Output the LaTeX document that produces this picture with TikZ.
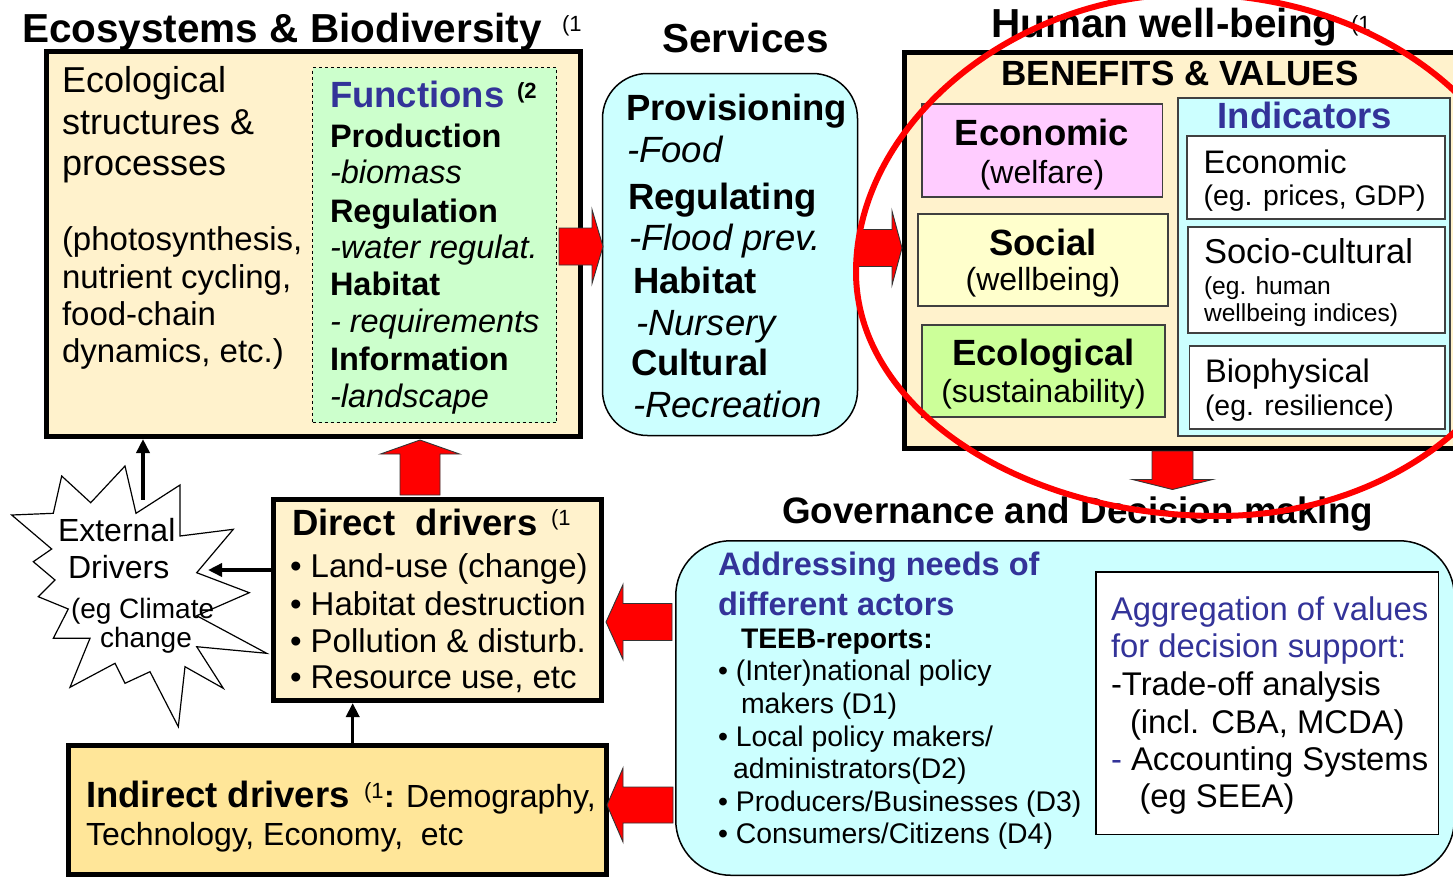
\documentclass[tikz,border=0pt]{standalone}
\usepackage{fontspec}
\setmainfont{Liberation Sans}
\usetikzlibrary{calc,arrows.meta}
\definecolor{cream}{HTML}{FFF2CC}
\definecolor{indyellow}{HTML}{FFE699}
\definecolor{fgreen}{HTML}{CCFFCC}
\definecolor{cyanbox}{HTML}{CCFFFF}
\definecolor{pinkbox}{HTML}{FFCCFF}
\definecolor{socbox}{HTML}{FFFFCC}
\definecolor{ecolbox}{HTML}{CCFF99}
\definecolor{dblue}{HTML}{333399}
\newcommand{\fsz}[1]{\fontsize{#1}{#1}\selectfont}
\tikzset{
  pics/blockarrow/.style args={#1/#2/#3/#4}{code={
    \filldraw[fill=red,draw=black!80,line width=0.9pt]
      (0,-#3) -- (#1-#2,-#3) -- (#1-#2,-#4) -- (#1,0) -- (#1-#2,#4) -- (#1-#2,#3) -- (0,#3) -- cycle;
  }}
}
\begin{document}
\begin{tikzpicture}[x=1pt,y=-1pt,
  txt/.style={anchor=base west,inner sep=0pt,outer sep=0pt},
  ctxt/.style={anchor=base,inner sep=0pt,outer sep=0pt},
  thickbox/.style={draw=black,line width=5pt,inner sep=0pt},
  thinbox/.style={draw=black!75,line width=1.8pt,inner sep=0pt},
  thinarr/.style={line width=3.5pt,-{Triangle[length=14pt,width=13pt]}},
]
\useasboundingbox (0,0) rectangle (1453,879);
\fill[white] (0,0) rectangle (1453,879);

% ---------- boxes ----------
\node[thickbox,fill=cream,minimum width=534pt,minimum height=385pt] (ecobox) at (313.5,244) {};
\node[draw=black,dashed,line width=1.2pt,fill=fgreen,inner sep=0pt,minimum width=244pt,minimum height=355pt] (fnbox) at (434.5,245) {};
\node[draw=black,line width=1.5pt,fill=cyanbox,rounded corners=45pt,inner sep=0pt,minimum width=255pt,minimum height=362pt] (servbox) at (730,254.5) {};
\node[thickbox,fill=cream,minimum width=563pt,minimum height=396pt] (hwbbox) at (1186,250.5) {};
\node[thinbox,fill=pinkbox,minimum width=240.5pt,minimum height=93pt] (econbox) at (1042.25,150.5) {};
\node[thinbox,fill=socbox,minimum width=250pt,minimum height=92pt] (socbox) at (1043,260) {};
\node[thinbox,fill=ecolbox,minimum width=243pt,minimum height=92pt] (ecolbox) at (1043.5,371) {};
\node[thinbox,fill=cyanbox,minimum width=272pt,minimum height=338pt] (indbox) at (1314,267) {};
\node[thinbox,fill=white,minimum width=258pt,minimum height=83pt] (wbox1) at (1316,177.5) {};
\node[thinbox,fill=white,minimum width=257pt,minimum height=106pt] (wbox2) at (1316.5,280) {};
\node[thinbox,fill=white,minimum width=255.5pt,minimum height=83pt] (wbox3) at (1317.25,387.5) {};
\node[draw=black,line width=1.5pt,fill=cyanbox,rounded corners=55pt,inner sep=0pt,minimum width=778.5pt,minimum height=334.5pt] (govbox) at (1065,708) {};
\node[draw=black,line width=1.5pt,fill=white,inner sep=0pt,minimum width=342.5pt,minimum height=262.5pt] (aggbox) at (1267,703) {};
\node[thickbox,fill=cream,minimum width=327.6pt,minimum height=201pt] (directbox) at (437.3,600) {};
\node[thickbox,fill=indyellow,minimum width=538.4pt,minimum height=129pt] (indirectbox) at (337.3,810) {};

% ---------- external drivers star ----------
\filldraw[fill=white,draw=black,line width=1.2pt]
 (11.7,515) -- (53.3,513.3) -- (61.7,476) -- (90.7,502.7) -- (125,466) -- (136,513.3)
 -- (180,485) -- (180,536) -- (233.3,529.3) -- (196.7,572.7) -- (249.3,592.7)
 -- (196.7,615.7) -- (266.7,653.3) -- (196.7,646.7) -- (223.3,688.3) -- (185,666.7)
 -- (178.3,726.7) -- (150,671.7) -- (125,683.3) -- (115,663.3) -- (70,687.3)
 -- (90,638.3) -- (53.3,638.3) -- (68.3,609) -- (38.3,596.7) -- (55,580)
 -- (33.3,561.7) -- (51.7,549) -- cycle;

% ---------- block arrows ----------
\pic at (559,246.5) {blockarrow=44/11/18.5/37};
\pic at (858,248) {blockarrow=44/10/18.5/37};
\pic[rotate=-90] at (1172.5,451) {blockarrow=38.5/10/20.5/40};
\pic[rotate=90] at (420,495) {blockarrow=55/14/20/39.5};
\pic[rotate=180] at (672,622) {blockarrow=66/17/18.5/37.5};
\pic[rotate=180] at (673,805) {blockarrow=66/16/18/37};

% ---------- thin arrows ----------
\coordinate (extTop) at (143,500);
\draw[thinarr] (extTop) -- (extTop |- ecobox.south);
\coordinate (extRight) at (208,570);
\draw[thinarr] (directbox.west |- extRight) -- (extRight);
\coordinate (indArrow) at (352.7,0);
\draw[thinarr] (indArrow |- indirectbox.north) -- (indArrow |- directbox.south);

% ---------- titles ----------
\node[txt,font=\fsz{40.5}\bfseries] (ecotitle) at (22,42) {Ecosystems \& Biodiversity};
\node[txt,font=\fsz{22}] (ecosup) at (562,31) {(1};
\node[txt,font=\fsz{40.5}\bfseries] (servtitle) at (662,52) {Services};
\node[txt,font=\fsz{40.5}\bfseries] (hwbtitle) at (991,37) {Human well-being};
\node[txt,font=\fsz{22}] (hwbsup) at (1351,31) {(1};
\node[txt,font=\fsz{36.8}\bfseries] (govtitle) at (782,523) {Governance and Decision making};

% ---------- ecosystem box text ----------
\node[txt,font=\fsz{36}] (eco1) at (62,92) {Ecological};
\node[txt,font=\fsz{36}] (eco2) at (62,134) {structures \&};
\node[txt,font=\fsz{36}] (eco3) at (62,175) {processes};
\node[txt,font=\fsz{33}] (eco4) at (62,250) {(photosynthesis,};
\node[txt,font=\fsz{33}] (eco5) at (62,288) {nutrient cycling,};
\node[txt,font=\fsz{33}] (eco6) at (62,325) {food-chain};
\node[txt,font=\fsz{33}] (eco7) at (62,362) {dynamics, etc.)};

\node[txt,font=\fsz{36.5}\bfseries,text=dblue] (fn0) at (330,107) {Functions};
\node[txt,font=\fsz{22}\bfseries] (fnsup) at (517,98) {(2};
\node[txt,font=\fsz{32.5}\bfseries] (fn1) at (330,147) {Production};
\node[txt,font=\fsz{32.5}\itshape] (fn2) at (330,183) {-biomass};
\node[txt,font=\fsz{32.5}\bfseries] (fn3) at (330,222) {Regulation};
\node[txt,font=\fsz{32.5}\itshape] (fn4) at (330,258) {-water regulat.};
\node[txt,font=\fsz{32.5}\bfseries] (fn5) at (330,295) {Habitat};
\node[txt,font=\fsz{32.5}\itshape] (fn6) at (330,332) {- requirements};
\node[txt,font=\fsz{32.5}\bfseries] (fn7) at (330,370) {Information};
\node[txt,font=\fsz{32.5}\itshape] (fn8) at (330,407) {-landscape};

% ---------- services ----------
\node[txt,font=\fsz{36.5}\bfseries] (sv1) at (626,120) {Provisioning};
\node[txt,font=\fsz{36.5}\itshape] (sv2) at (627,162) {-Food};
\node[txt,font=\fsz{36.5}\bfseries] (sv3) at (628,209) {Regulating};
\node[txt,font=\fsz{36.5}\itshape] (sv4) at (629,250) {-Flood prev.};
\node[txt,font=\fsz{36.5}\bfseries] (sv5) at (633,293) {Habitat};
\node[txt,font=\fsz{36.5}\itshape] (sv6) at (636,335) {-Nursery};
\node[txt,font=\fsz{36.5}\bfseries] (sv7) at (631,375) {Cultural};
\node[txt,font=\fsz{36.5}\itshape] (sv8) at (633,417) {-Recreation};

% ---------- human well-being ----------
\node[ctxt,font=\fsz{35}\bfseries] (benefits) at (1180,85) {BENEFITS \& VALUES};
\node[ctxt,font=\fsz{36.5}\bfseries] (econ1) at (1042,145) {Economic};
\node[ctxt,font=\fsz{32}] (econ2) at (1042,183) {(welfare)};
\node[ctxt,font=\fsz{36.5}\bfseries] (soc1) at (1043,255) {Social};
\node[ctxt,font=\fsz{32}] (soc2) at (1043,290) {(wellbeing)};
\node[ctxt,font=\fsz{36.5}\bfseries] (ecol1) at (1043.5,365) {Ecological};
\node[ctxt,font=\fsz{32}] (ecol2) at (1043.5,402) {(sustainability)};
\node[ctxt,font=\fsz{36.5}\bfseries,text=dblue] (ind0) at (1305,128) {Indicators};
\node[txt,font=\fsz{32.6}] (ind1) at (1203.6,173) {Economic};
\node[txt,font=\fsz{28.4}] (ind2) at (1203.6,205) {(eg. prices, GDP)};
\node[txt,font=\fsz{34.5}] (ind3) at (1204,263) {Socio-cultural};
\node[txt,font=\fsz{24.6}] (ind4) at (1204,294) {(eg. human};
\node[txt,font=\fsz{24.6}] (ind5) at (1204,321) {wellbeing indices)};
\node[txt,font=\fsz{32.6}] (ind6) at (1205,382) {Biophysical};
\node[txt,font=\fsz{28.4}] (ind7) at (1205,415) {(eg. resilience)};

% ---------- governance ----------
\node[txt,font=\fsz{32.5}\bfseries,text=dblue] (gv1) at (718,575) {Addressing needs of};
\node[txt,font=\fsz{32.5}\bfseries,text=dblue] (gv2) at (718,615) {different actors};
\node[txt,font=\fsz{28.3}\bfseries] (gv3) at (741,648) {TEEB-reports:};
\node[txt,font=\fsz{28.4}] (gv4) at (718,680) {• (Inter)national policy};
\node[txt,font=\fsz{28.4}] (gv5) at (741,713) {makers (D1)};
\node[txt,font=\fsz{28.4}] (gv6) at (718,746) {• Local policy makers/};
\node[txt,font=\fsz{28.4}] (gv7) at (733,778) {administrators(D2)};
\node[txt,font=\fsz{28.4}] (gv8) at (718,811) {• Producers/Businesses (D3)};
\node[txt,font=\fsz{28.4}] (gv9) at (718,843) {• Consumers/Citizens (D4)};

\node[txt,font=\fsz{32.8},text=dblue] (ag1) at (1111,620) {Aggregation of values};
\node[txt,font=\fsz{32.8},text=dblue] (ag2) at (1111,657) {for decision support:};
\node[txt,font=\fsz{32.8}] (ag3) at (1111,695) {-Trade-off analysis};
\node[txt,font=\fsz{32.8}] (ag4) at (1130,733) {(incl. CBA, MCDA)};
\node[txt,font=\fsz{32.8}] (ag5) at (1111,770) {\textcolor{dblue}{-} Accounting Systems};
\node[txt,font=\fsz{32.8}] (ag6) at (1139.5,807) {(eg SEEA)};

% ---------- drivers ----------
\node[txt,font=\fsz{36.5}\bfseries] (dd0) at (292,535) {Direct\ \ drivers};
\node[txt,font=\fsz{22}] (ddsup) at (551,525) {(1};
\node[txt,font=\fsz{33}] (dd1) at (290,577) {• Land-use (change)};
\node[txt,font=\fsz{33}] (dd2) at (290,615) {• Habitat destruction};
\node[txt,font=\fsz{33}] (dd3) at (290,652) {• Pollution \& disturb.};
\node[txt,font=\fsz{33}] (dd4) at (290,688) {• Resource use, etc};

\node[txt,font=\fsz{36.5}\bfseries] (id0) at (86,807) {Indirect drivers};
\node[txt,font=\fsz{22}] (idsup) at (364,798) {(1};
\node[txt,font=\fsz{32}\bfseries] (idcolon) at (384,807) {:};
\node[txt,font=\fsz{32}] (id1) at (406,807) {Demography,};
\node[txt,font=\fsz{32}] (id2) at (86,845) {Technology, Economy,\ \ etc};

\node[txt,font=\fsz{32}] (ex1) at (58,541) {External};
\node[txt,font=\fsz{32}] (ex2) at (68,578) {Drivers};
\node[txt,font=\fsz{28}] (ex3) at (71,618) {(eg Climate};
\node[txt,font=\fsz{28}] (ex4) at (100,647) {change};

% ---------- red freehand ellipse ----------
\draw[red,line width=6pt] (856,272)
  .. controls (856,124.7) and (1013,-6) .. (1190,-6)
  .. controls (1380.4,-6) and (1535,115.4) .. (1535,265)
  .. controls (1535,403.6) and (1393,516) .. (1218,516)
  .. controls (1018,516) and (856,406.7) .. (856,272) -- cycle;
\end{tikzpicture}
\end{document}
